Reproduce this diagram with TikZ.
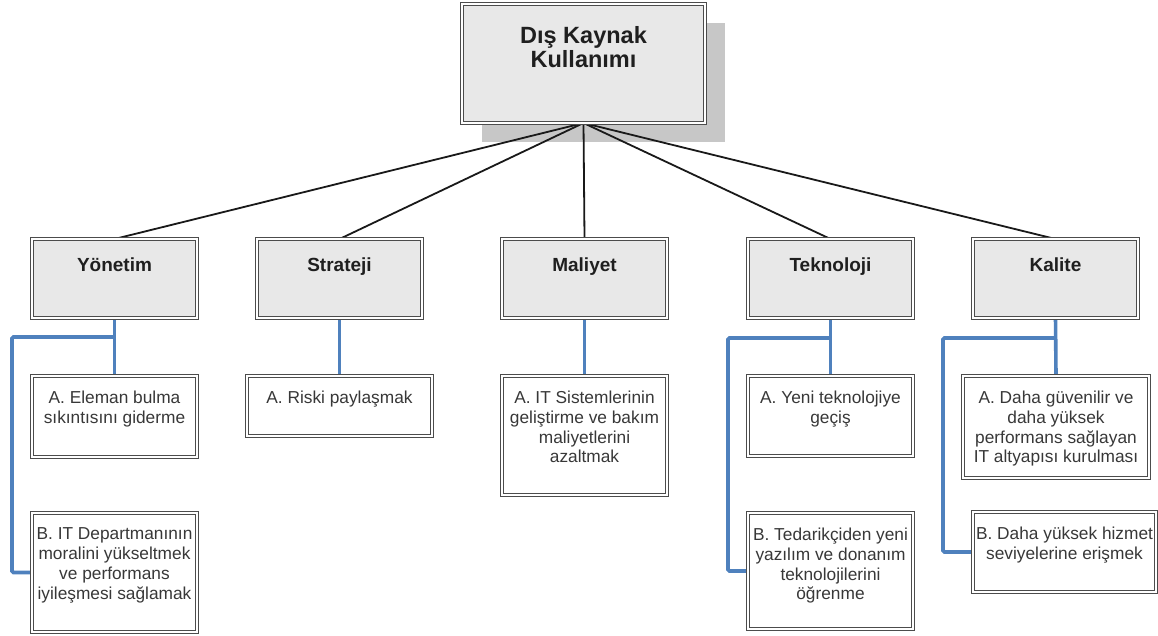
\documentclass[tikz,border=0pt]{standalone}
\usepackage{fontspec}
\setmainfont{Liberation Sans}
\usetikzlibrary{calc}
\definecolor{linkblue}{RGB}{79,129,189}
\pgfdeclarelayer{shade}
\pgfdeclarelayer{links}
\pgfsetlayers{shade,links,main}
% box body: width, height, top gap, text (top aligned, centred)
\newcommand\cellbody[4]{\parbox[c][#2pt][t]{#1pt}{\centering\vspace*{#3pt}#4\par}}
\tikzset{
  frame/.style={draw=black!70, double=white, double distance=1.5pt, line width=1.25pt,
    inner sep=0pt, outer sep=0pt, anchor=north west},
  headbox/.style={frame, fill=black!9, text=black!88,
    font=\bfseries\fontsize{19}{21}\selectfont},
  itembox/.style={frame, fill=white, text=black!78,
    font=\fontsize{17.3}{19.8}\selectfont},
  trunk/.style={draw=black!90, line width=1.8pt},
  twig/.style={draw=linkblue, line width=3.6pt, rounded corners=1.5pt},
}
\begin{document}
\begin{tikzpicture}[x=1pt,y=-1pt]
\useasboundingbox (0,0) rectangle (1158,635);

% top of the hierarchy
\node[headbox, font=\bfseries\fontsize{23.5}{24}\selectfont] (root) at (462,4)
  {\cellbody{243}{119}{22}{Dış Kaynak\\Kullanımı}};

% second level
\node[headbox] (yon) at (32,239)  {\cellbody{165}{79}{19}{Yönetim}};
\node[headbox] (str) at (257,239) {\cellbody{165}{79}{19}{Strateji}};
\node[headbox] (mal) at (502,239) {\cellbody{165}{79}{19}{Maliyet}};
\node[headbox] (tek) at (748,239) {\cellbody{165}{79}{19}{Teknoloji}};
\node[headbox] (kal) at (973,239) {\cellbody{165}{79}{19}{Kalite}};

% items
\node[itembox] (yonA) at (32,376)
  {\cellbody{165}{81}{15}{A. Eleman bulma\\sıkıntısını giderme}};
\node[itembox] (yonB) at (32,513)
  {\cellbody{165}{119}{15}{B. IT Departmanının\\moralini yükseltmek\\ve performans\\iyileşmesi sağlamak}};
\node[itembox] (strA) at (247,376)
  {\cellbody{185}{60}{15}{A. Riski paylaşmak}};
\node[itembox] (malA) at (502,376)
  {\cellbody{165}{119}{15}{A. IT Sistemlerinin\\geliştirme ve bakım\\maliyetlerini\\azaltmak}};
\node[itembox] (tekA) at (748,376)
  {\cellbody{165}{80}{15}{A. Yeni teknolojiye\\geçiş}};
\node[itembox] (tekB) at (748,513)
  {\cellbody{165}{116}{15}{B. Tedarikçiden yeni\\yazılım ve donanım\\teknolojilerini\\öğrenme}};
\node[itembox] (kalA) at (963,376)
  {\cellbody{186}{102}{15}{A. Daha güvenilir ve\\daha yüksek\\performans sağlayan\\IT altyapısı kurulması}};
\node[itembox] (kalB) at (973,512)
  {\cellbody{183}{80}{15}{B. Daha yüksek hizmet\\seviyelerine erişmek}};

% drop shadow of the top box
\begin{pgfonlayer}{shade}
  \fill[black!22] ([shift={(20,19)}]root.north west) rectangle ([shift={(20,19)}]root.south east);
\end{pgfonlayer}

\begin{pgfonlayer}{links}
  \foreach \n in {yon,str,mal,tek,kal}
    \draw[trunk] (root.south) -- (\n.north);

  \draw[twig] (yon.south) -- (yonA.north);
  \draw[twig] ($(yon.south)+(0,19)$) -| ($(yonB.west)+(-20,0)$) -- (yonB.west);

  \draw[twig] (str.south) -- (strA.north);
  \draw[twig] (mal.south) -- (malA.north);

  \draw[twig] (tek.south) -- (tekA.north);
  \draw[twig] ($(tek.south)+(0,20)$) -| ($(tekB.west)+(-20,0)$) -- (tekB.west);

  \draw[twig] (kal.south) -- (kalA.north);
  \draw[twig] ($(kal.south)+(0,20)$) -| ($(kalB.west)+(-30,0)$) -- (kalB.west);
\end{pgfonlayer}
\end{tikzpicture}
\end{document}
